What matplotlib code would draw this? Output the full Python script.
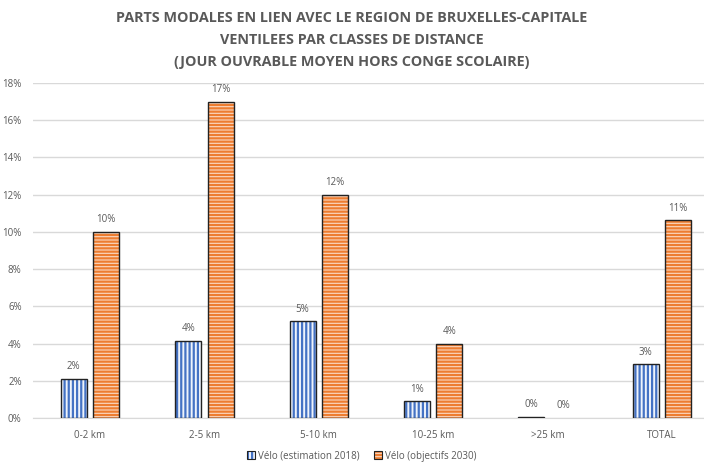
import matplotlib
matplotlib.use("Agg")
import matplotlib.pyplot as plt
import numpy as np
from matplotlib.patches import Patch
from matplotlib.legend_handler import HandlerTuple
from matplotlib import font_manager

categories = ["0-2 km", "2-5 km", "5-10 km", "10-25 km", ">25 km", "TOTAL"]
velo_2018 = [2.1, 4.15, 5.2, 0.9, 0.08, 2.9]
velo_2030 = [10.0, 17.0, 12.0, 4.0, 0.0, 10.62]
series_names = ["Vélo (estimation 2018)", "Vélo (objectifs 2030)"]
yticks = [0, 2, 4, 6, 8, 10, 12, 14, 16, 18]
title = ("PARTS MODALES EN LIEN AVEC LE REGION DE BRUXELLES-CAPITALE\n"
         "VENTILEES PAR CLASSES DE DISTANCE\n"
         "(JOUR OUVRABLE MOYEN HORS CONGE SCOLAIRE)")

names = {f.name for f in font_manager.fontManager.ttflist}
font = "Liberation Sans Narrow" if "Liberation Sans Narrow" in names else "Open Sans"
plt.rcParams['font.family'] = [font, 'DejaVu Sans']
plt.rcParams['hatch.linewidth'] = 1.6

gray = "#595959"
fig = plt.figure(figsize=(7.04, 4.70), dpi=100)
ax = fig.add_axes([32.8/704, 52/470, 686.4/704, 335/470])

x = np.arange(len(categories))
w = 0.227
off = 0.142
blue_face, blue_hatch = "#eef3fb", "#4472C4"
orange_face, orange_hatch = "#fbd9c2", "#ED7D31"
edge = "#222222"

ax.bar(x - off, velo_2018, w, color=blue_face, edgecolor=blue_hatch, linewidth=0, hatch="||||", zorder=2)
ax.bar(x - off, velo_2018, w, color="none", edgecolor=edge, linewidth=1.0, zorder=3)
nz = [v if v > 0 else np.nan for v in velo_2030]
ax.bar(x + off, nz, w, color=orange_face, edgecolor=orange_hatch, linewidth=0, hatch="-----", zorder=2)
ax.bar(x + off, nz, w, color="none", edgecolor=edge, linewidth=1.0, zorder=3)

for xi, v in zip(x, velo_2018):
    ax.text(xi - off, v + 0.35, f"{round(v):.0f}%", ha="center", va="bottom", fontsize=7, color=gray)
for xi, v in zip(x, velo_2030):
    ax.text(xi + off, v + 0.35, f"{round(v):.0f}%", ha="center", va="bottom", fontsize=7, color=gray)

ax.set_xlim(-0.5, len(categories) - 0.5)
ax.set_ylim(0, 18)
ax.set_yticks(yticks)
ax.set_yticklabels([f"{t}%" for t in yticks])
ax.set_xticks(x)
ax.set_xticklabels(categories)
ax.tick_params(axis="both", length=0, labelsize=7, colors=gray)
ax.tick_params(axis="y", pad=8)
ax.tick_params(axis="x", pad=9)
ax.grid(axis="y", color="#d9d9d9", linewidth=1, zorder=0)
for s in ["top", "right", "left"]:
    ax.spines[s].set_visible(False)
ax.spines["bottom"].set_color("#d9d9d9")
ax.set_axisbelow(True)

fig.text(0.5, 1 - 11/470, title, ha="center", va="top", fontsize=10.4, fontweight="bold",
         color=gray, linespacing=1.72)

handles = [
    (Patch(facecolor=blue_face, edgecolor=blue_hatch, hatch="||||", linewidth=0),
     Patch(facecolor="none", edgecolor=edge, linewidth=0.8)),
    (Patch(facecolor=orange_face, edgecolor=orange_hatch, hatch="-----", linewidth=0),
     Patch(facecolor="none", edgecolor=edge, linewidth=0.8)),
]
fig.legend(handles, series_names, loc="center", bbox_to_anchor=(362/704, 1 - 456/470),
           ncol=2, frameon=False, fontsize=7, labelcolor=gray, handlelength=0.8,
           handleheight=0.8, handletextpad=0.3, columnspacing=1.5,
           handler_map={tuple: HandlerTuple(ndivide=1, pad=0)})

fig.savefig("out.png", dpi=100)
